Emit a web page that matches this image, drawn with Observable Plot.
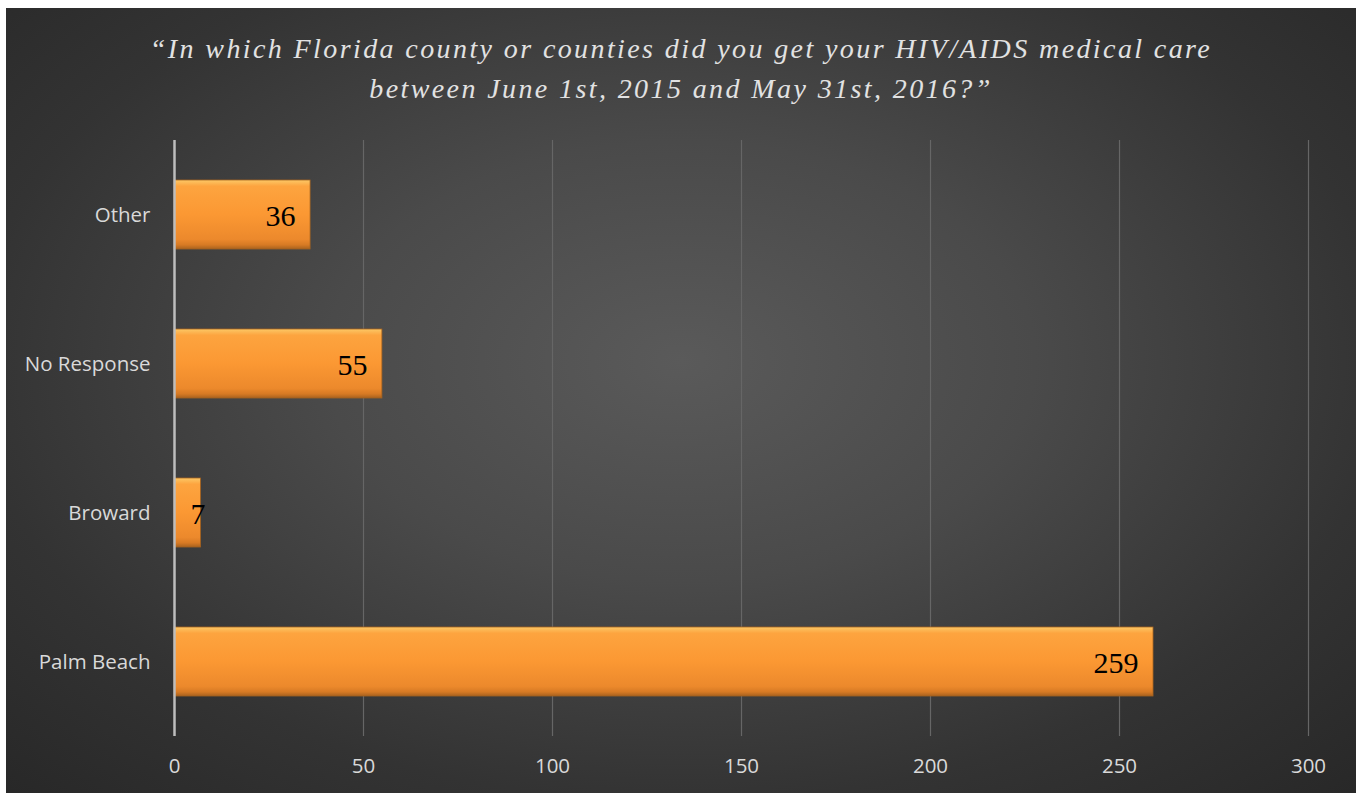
<!DOCTYPE html>
<html>
<head>
<meta charset="utf-8">
<script src="https://cdn.jsdelivr.net/npm/d3@7"></script>
<script src="https://cdn.jsdelivr.net/npm/@observablehq/plot@0.6"></script>
<style>
  html, body { margin: 0; padding: 0; background: #ffffff; }
  #page { position: relative; width: 1364px; height: 793px; overflow: hidden; background: #ffffff; }
  #panel {
    position: absolute; left: 6px; top: 8px; width: 1350px; height: 785px;
    background: radial-gradient(ellipse 75% 80% at 50% 45%, #5a5a5a 0%, #4a4a4a 35%, #333333 70%, #262626 100%);
  }
  #title {
    height: 122px; box-sizing: border-box; padding-top: 21px;
    text-align: center; color: #e2e2e2;
    font-family: "Liberation Serif", "DejaVu Serif", serif; font-style: italic;
    font-size: 28px; line-height: 40px; letter-spacing: 2.4px;
  }
  #chart svg { display: block; }
</style>
</head>
<body>
<div id="page">
  <div id="panel">
    <div id="title">“In which Florida county or counties did you get your HIV/AIDS medical care<br>between June 1st, 2015 and May 31st, 2016?”</div>
    <div id="chart"></div>
  </div>
</div>
<script>
const counties = ["Other", "No Response", "Broward", "Palm Beach"];
const counts = [36, 55, 7, 259];
const xTicks = [0, 50, 100, 150, 200, 250, 300];

const data = counties.map((c, i) => ({county: c, value: counts[i]}));

const chart = Plot.plot({
  width: 1350,
  height: 663,
  marginTop: 10,
  marginBottom: 57,
  marginLeft: 168,
  marginRight: 48,
  style: {background: "transparent", color: "#d9d9d9", fontFamily: "'Open Sans', sans-serif"},
  x: {domain: [0, 300], ticks: xTicks, label: null},
  y: {domain: counties, paddingInner: 0.535, paddingOuter: 0.2675, label: null},
  marks: [
    Plot.ruleX(xTicks.filter(t => t > 0), {stroke: "#666666", strokeWidth: 1.2}),
    Plot.axisX({ticks: xTicks, tickSize: 0, tickPadding: 22, fontSize: 20.5, fill: "#d9d9d9", label: null}),
    Plot.axisY({tickSize: 0, tickPadding: 24, fontSize: 20.5, fill: "#d9d9d9", label: null}),
    Plot.barX(data, {x: "value", y: "county", fill: "url(#barGrad)", stroke: "#a5621f", strokeWidth: 0.8,
      style: {filter: "drop-shadow(2px 3px 2px rgba(0,0,0,0.45))"}}),
    Plot.ruleX([0], {stroke: "#bdbdbd", strokeWidth: 2.5}),
    Plot.text(data.filter(d => d.value >= 20), {x: "value", y: "county", text: d => String(d.value),
      textAnchor: "end", dx: -15, dy: 1, fill: "#000", fontSize: 30, fontFamily: "'Liberation Serif', serif"}),
    Plot.text(data.filter(d => d.value < 20), {x: "value", y: "county", text: d => String(d.value),
      textAnchor: "middle", dx: -3, dy: 1, fill: "#000", fontSize: 30, fontFamily: "'Liberation Serif', serif"})
  ]
});

const ns = "http://www.w3.org/2000/svg";
const defs = document.createElementNS(ns, "defs");
defs.innerHTML = `
  <linearGradient id="barGrad" x1="0" y1="0" x2="0" y2="1">
    <stop offset="0" stop-color="#fcc866"/>
    <stop offset="0.09" stop-color="#fda43f"/>
    <stop offset="0.5" stop-color="#fb9833"/>
    <stop offset="0.86" stop-color="#ec892c"/>
    <stop offset="0.94" stop-color="#d77a24"/>
    <stop offset="1" stop-color="#a9621e"/>
  </linearGradient>`;
chart.insertBefore(defs, chart.firstChild);
document.getElementById("chart").appendChild(chart);
</script>
</body>
</html>
